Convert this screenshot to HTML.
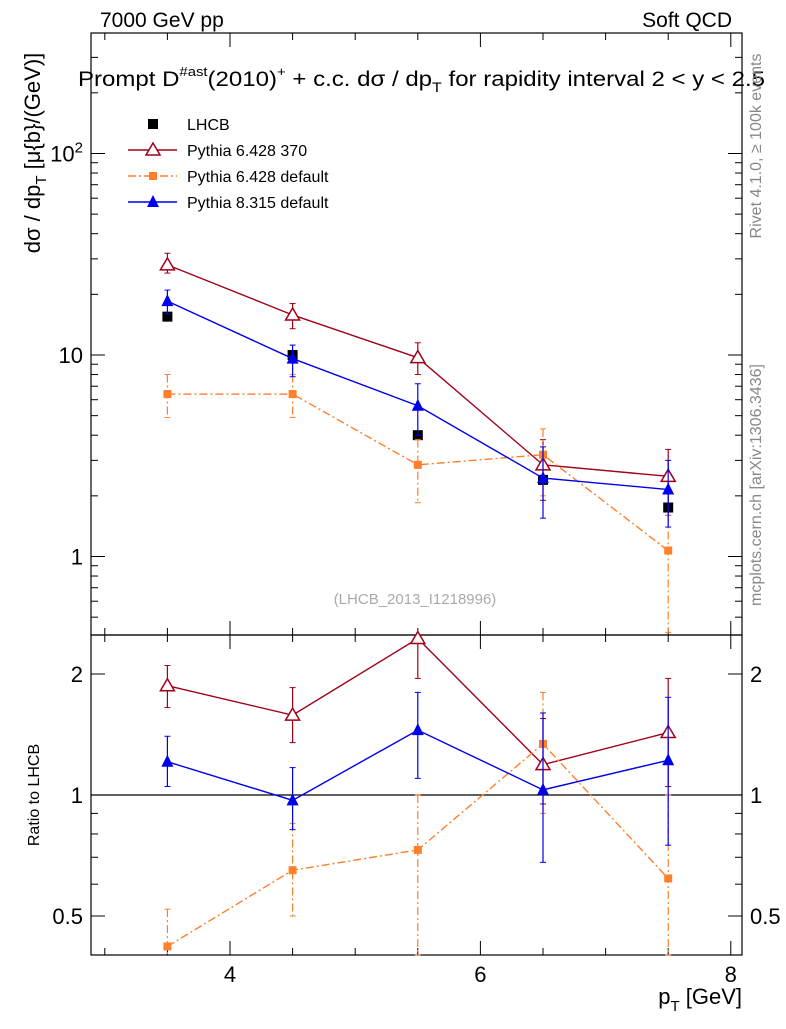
<!DOCTYPE html>
<html><head><meta charset="utf-8"><style>
body{margin:0;background:#fff;}
svg text{font-family:"Liberation Sans",sans-serif;}
</style></head><body>
<svg id="c" width="786" height="1024" xmlns="http://www.w3.org/2000/svg"></svg>
<script>
const xs=[3.5,4.5,5.5,6.5,7.5];
const lhcb=[15.5,10,4.0,2.4,1.75];
const p6a=[28,15.8,9.7,2.85,2.5];
const p6aHi=[32,18,11.5,3.8,3.4];
const p6aLo=[25.5,13.5,8,1.9,1.6];
const p6d=[6.4,6.4,2.85,3.2,1.07];
const p6dHi=[8,8,3.8,4.3,1.6];
const p6dLo=[4.9,4.9,1.85,2.0,0.42];
const p8=[18.5,9.6,5.6,2.45,2.15];
const p8Hi=[21,11.2,7.2,3.5,3.0];
const p8Lo=[16,7.8,4.0,1.55,1.4];
const rA=[1.87,1.58,2.45,1.19,1.43];
const rAHi=[2.1,1.85,2.5,1.55,1.95];
const rALo=[1.65,1.35,1.95,0.95,1.05];
const rD=[0.42,0.65,0.73,1.34,0.62];
const rDHi=[0.52,0.85,1.0,1.8,1.0];
const rDLo=[0.33,0.5,0.4,0.9,0.4];
const r8=[1.21,0.97,1.45,1.03,1.22];
const r8Hi=[1.4,1.17,1.8,1.6,1.75];
const r8Lo=[1.05,0.82,1.1,0.68,0.75];
const xTicks=[4,6,8];

const S=document.getElementById('c');const NS='http://www.w3.org/2000/svg';
function el(t,a,txt,p){const e=document.createElementNS(NS,t);for(const k in a)e.setAttribute(k,a[k]);if(txt!=null)e.textContent=txt;(p||S).appendChild(e);return e;}
const L=91,R=742,T=33,M=635,B=955;
const X=v=>230+(v-4)*125.2;
const Y=v=>355-Math.log10(v/10)*201.5;
const YR=v=>795-Math.log10(v)*402;
let f=el('rect',{x:L,y:T,width:R-L,height:M-T,fill:'none',stroke:'#000','stroke-width':1.2});

f=el('rect',{x:L,y:M,width:R-L,height:B-M,fill:'none',stroke:'#000','stroke-width':1.2});

for(let v=3;v<=8;v+=0.5){const x=X(v);const big=Number.isInteger(v)&&v%2==0;const l=big?14:7;
 [T,M].forEach(y0=>el('line',{x1:x,x2:x,y1:y0,y2:y0+l,stroke:'#000'}));
 [M,B].forEach(y0=>el('line',{x1:x,x2:x,y1:y0,y2:y0-l,stroke:'#000'}));}
xTicks.forEach(v=>{const t=el('text',{x:X(v),y:982,'font-size':22,'text-anchor':'middle'},String(v));});
for(let d=0.1;d<=100;d*=10){for(let k=1;k<10;k++){const v=d*k;const y=Y(v);if(y<T||y>M)continue;const l=k==1?14:7;
 el('line',{x1:L,x2:L+l,y1:y,y2:y,stroke:'#000'});el('line',{x1:R,x2:R-l,y1:y,y2:y,stroke:'#000'});}}
[[1,'1'],[10,'10']].forEach(([v,s])=>{const t=el('text',{x:L-8,y:Y(v)+8,'font-size':22,'text-anchor':'end'},s);});
let t=el('text',{x:L-8,y:Y(100)+8,'font-size':22,'text-anchor':'end'},'10');el('tspan',{dy:-9,'font-size':15},'2',t);

[0.4,0.5,0.6,0.7,0.8,0.9,1,2].forEach(v=>{const y=YR(v);const l=(v==0.5||v==1||v==2)?14:7;el('line',{x1:L,x2:L+l,y1:y,y2:y,stroke:'#000'});el('line',{x1:R,x2:R-l,y1:y,y2:y,stroke:'#000'});});
[[0.5,'0.5'],[1,'1'],[2,'2']].forEach(([v,s])=>{let a=el('text',{x:L-8,y:YR(v)+8,'font-size':22,'text-anchor':'end'},s);
 a=el('text',{x:R+8,y:YR(v)+8,'font-size':22},s);});
el('line',{x1:L,x2:R,y1:YR(1),y2:YR(1),stroke:'#000','stroke-width':1.2});
t=el('text',{x:100,y:27,'font-size':21},'7000 GeV pp');
t=el('text',{x:732,y:27,'font-size':21,'text-anchor':'end'},'Soft QCD');
t=el('text',{x:78,y:86,'font-size':21,textLength:687,lengthAdjust:'spacingAndGlyphs'},'Prompt D');el('tspan',{dy:-10,'font-size':13},'#ast',t);el('tspan',{dy:10},'(2010)',t);el('tspan',{dy:-10,'font-size':13},'+',t);el('tspan',{dy:10},' + c.c.  dσ / dp',t);el('tspan',{dy:6,'font-size':14},'T',t);el('tspan',{dy:-6},' for rapidity interval 2 < y < 2.5',t);

t=el('text',{x:0,y:0,'font-size':22,transform:'translate(40,153) rotate(-90)','text-anchor':'middle'},'dσ / dp');el('tspan',{dy:6,'font-size':15},'T',t);el('tspan',{dy:-6},' [μ{b}/(GeV)]',t);

t=el('text',{x:0,y:0,'font-size':16,transform:'translate(39,795) rotate(-90)','text-anchor':'middle'},'Ratio to LHCB');
t=el('text',{x:742,y:1004,'font-size':22,'text-anchor':'end'},'p');el('tspan',{dy:7,'font-size':15},'T',t);el('tspan',{dy:-7},' [GeV]',t);

t=el('text',{x:415,y:604,'font-size':15,fill:'#aaa','text-anchor':'middle'},'(LHCB_2013_I1218996)');
t=el('text',{x:0,y:0,'font-size':16,fill:'#888',transform:'translate(761,146) rotate(-90)','text-anchor':'middle'},'Rivet 4.1.0, ≥ 100k events');
t=el('text',{x:0,y:0,'font-size':16,fill:'#888',transform:'translate(761,485) rotate(-90)','text-anchor':'middle'},'mcplots.cern.ch [arXiv:1306.3436]');
function series(name,vals,hi,lo,Yf,col,dash,marker){
 const g=el('g',{});
 if(col!=='#000'){el('polyline',{points:xs.map((x,i)=>X(x)+','+Yf(vals[i])).join(' '),fill:'none',stroke:col,'stroke-width':1.4,'stroke-dasharray':dash||''},null,g);}
 xs.forEach((x,i)=>{const cx=X(x),cy=Yf(vals[i]);
  if(hi){const y1=Math.max(Yf(hi[i]),M>cy?T:M),y2=Math.min(Yf(lo[i]),cy<M?M:B);
   el('line',{x1:cx,x2:cx,y1:y1,y2:y2,stroke:col,'stroke-width':1.2,'stroke-dasharray':dash||''},null,g);
   if(Yf(hi[i])>=y1)el('line',{x1:cx-3,x2:cx+3,y1:Yf(hi[i]),y2:Yf(hi[i]),stroke:col},null,g);
   if(Yf(lo[i])<=y2)el('line',{x1:cx-3,x2:cx+3,y1:Yf(lo[i]),y2:Yf(lo[i]),stroke:col},null,g);}
  let m;
  if(marker=='sq')m=el('rect',{x:cx-5,y:cy-5,width:10,height:10,fill:col},null,g);
  else if(marker=='ssq')m=el('rect',{x:cx-4,y:cy-4,width:8,height:8,fill:col},null,g);
  else if(marker=='otri')m=el('polygon',{points:`${cx},${cy-7} ${cx-7},${cy+5} ${cx+7},${cy+5}`,fill:'#fff',stroke:col,'stroke-width':1.5},null,g);
  else m=el('polygon',{points:`${cx},${cy-7} ${cx-6},${cy+5} ${cx+6},${cy+5}`,fill:col},null,g);
  });
}
const RED='#a0001a',OR='#ff7f2a',BL='#0000ee',DD='8,3,2,3';
series('lhcb-data',lhcb,null,null,Y,'#000','','sq');
series('pythia6-370',p6a,p6aHi,p6aLo,Y,RED,'','otri');
series('pythia6-default',p6d,p6dHi,p6dLo,Y,OR,DD,'ssq');
series('pythia8-default',p8,p8Hi,p8Lo,Y,BL,'','tri');
series('ratio-pythia6-370',rA,rAHi,rALo,YR,RED,'','otri');
series('ratio-pythia6-default',rD,rDHi,rDLo,YR,OR,DD,'ssq');
series('ratio-pythia8-default',r8,r8Hi,r8Lo,YR,BL,'','tri');
const lg=el('g',{});
const items=[['LHCB','#000','','sq'],['Pythia 6.428 370',RED,'','otri'],['Pythia 6.428 default',OR,DD,'ssq'],['Pythia 8.315 default',BL,'','tri']];
items.forEach((it,i)=>{const y=124+i*26;const cx=153;
 const e=el('g',{},null,lg);
 if(i>0)el('line',{x1:128,x2:177,y1:y,y2:y,stroke:it[1],'stroke-width':1.4,'stroke-dasharray':it[2]},null,e);
 if(it[3]=='sq')el('rect',{x:cx-5,y:y-5,width:10,height:10,fill:'#000'},null,e);
 else if(it[3]=='ssq')el('rect',{x:cx-4,y:y-4,width:8,height:8,fill:it[1]},null,e);
 else if(it[3]=='otri')el('polygon',{points:`${cx},${y-7} ${cx-7},${y+5} ${cx+7},${y+5}`,fill:'#fff',stroke:it[1],'stroke-width':1.5},null,e);
 else el('polygon',{points:`${cx},${y-7} ${cx-6},${y+5} ${cx+6},${y+5}`,fill:it[1]},null,e);
 el('text',{x:187,y:y+6,'font-size':16},it[0],e);});
</script>
</body></html>
